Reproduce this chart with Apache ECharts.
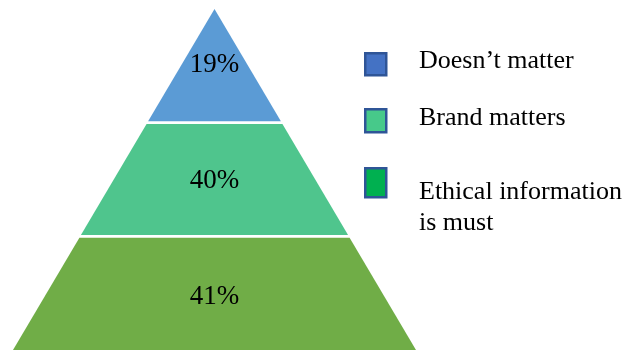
<!DOCTYPE html>
<html>
<head>
<meta charset="utf-8">
<script src="https://cdn.jsdelivr.net/npm/echarts@6/dist/echarts.min.js"></script>
<style>
  html, body { margin: 0; padding: 0; background: #fff; }
  #chart { width: 639px; height: 351px; }
</style>
</head>
<body>
<div id="chart"></div>
<script>
// Pyramid levels, top to bottom
const levels = ['Doesn\u2019t matter', 'Brand matters', 'Ethical information is must'];
const legendLabels = ['Doesn\u2019t matter', 'Brand matters', 'Ethical information\nis must'];
const shares = [19, 40, 41];

// Styling
const bandColors = ['#5B9BD5', '#4FC58D', '#70AD47'];
const labelNudge = [-1, 1.5, 4];      // px, vertical fine-tuning of the band labels
const legendColors = ['#4472C4', '#47C98A', '#00B050'];
const legendBorder = '#2F5597';
const serif = '"Liberation Serif", "Times New Roman", serif';

const tierCount = levels.length;

function renderBand(params, api) {
  const tier = api.value(0);          // 0 = bottom band
  const share = api.value(1);
  const unitPx = api.size([0, 1])[1];
  const gap = 1.3 / unitPx;           // thin white separation between bands
  let y0 = tier, y1 = tier + 1;
  if (y0 > 0) y0 += gap;
  if (y1 < tierCount) y1 -= gap;
  const hw = y => (tierCount - y) / tierCount;
  const pts = [
    api.coord([-hw(y0), y0]),
    api.coord([hw(y0), y0]),
    api.coord([hw(y1), y1]),
    api.coord([-hw(y1), y1])
  ];
  const c = api.coord([0, tier + 0.5]);
  return {
    type: 'group',
    children: [
      {
        type: 'polygon',
        shape: { points: pts },
        style: { fill: api.visual('color') }
      },
      {
        type: 'text',
        x: c[0],
        y: c[1] + labelNudge[params.seriesIndex],
        style: {
          text: share + '%',
          fill: '#000',
          font: '27px ' + serif,
          align: 'center',
          verticalAlign: 'middle'
        },
        z2: 10
      }
    ]
  };
}

const series = levels.map((name, i) => ({
  type: 'custom',
  name: name,
  renderItem: renderBand,
  itemStyle: { color: bandColors[i] },
  encode: { x: -1, y: 0 },
  data: [[tierCount - 1 - i, shares[i]]],
  silent: true
}));

// Legend swatches and legend captions are laid out separately
const swatchTops = [52, 108, 167];
const swatchHeights = [22, 23, 29];
const captionTops = [45.7, 102.4, 176.4];

const swatchLegends = levels.map((name, i) => ({
  left: 364,
  top: swatchTops[i],
  padding: 0,
  selectedMode: false,
  itemWidth: 21,
  itemHeight: swatchHeights[i],
  icon: 'rect',
  formatter: () => '',
  textStyle: { fontSize: 1, lineHeight: 1, padding: 0 },
  data: [{
    name: name,
    itemStyle: { color: legendColors[i], borderColor: legendBorder, borderWidth: 2.5 }
  }]
}));

const captionLegends = levels.map((name, i) => ({
  left: 364,
  top: captionTops[i],
  padding: 0,
  selectedMode: false,
  itemWidth: 21,
  itemHeight: 10,
  icon: 'rect',
  formatter: () => legendLabels[i],
  textStyle: {
    fontFamily: serif,
    fontSize: 26,
    color: '#000',
    lineHeight: 31,
    padding: [0, 0, 0, 29]
  },
  data: [{
    name: name,
    itemStyle: { color: 'rgba(0,0,0,0)', borderWidth: 0 }
  }]
}));

const chart = echarts.init(document.getElementById('chart'), null, { renderer: 'canvas' });
chart.setOption({
  animation: false,
  backgroundColor: '#fff',
  grid: { left: 13, right: 223, top: 9, bottom: 1 },
  xAxis: { type: 'value', min: -1, max: 1, show: false },
  yAxis: { type: 'value', min: 0, max: tierCount, show: false },
  legend: swatchLegends.concat(captionLegends),
  series: series
});
</script>
</body>
</html>
